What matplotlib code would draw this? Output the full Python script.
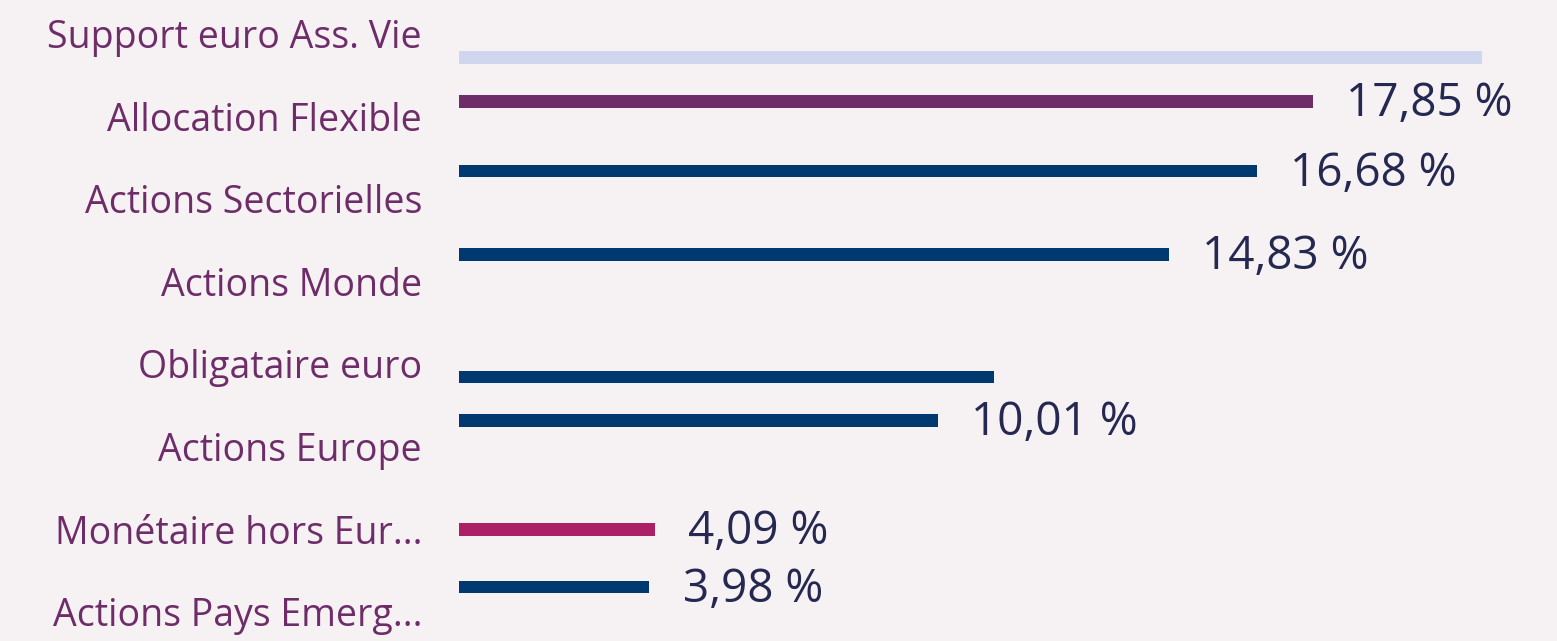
import matplotlib.pyplot as plt
from matplotlib.transforms import ScaledTranslation

plt.rcParams['font.family'] = ['Open Sans', 'DejaVu Sans']

categories = ['Support euro Ass. Vie', 'Allocation Flexible', 'Actions Sectorielles',
              'Actions Monde', 'Obligataire euro', 'Actions Europe',
              'Monétaire hors Eur...', 'Actions Pays Emerg...']
values = [21.38, 17.85, 16.68, 14.83, 11.18, 10.01, 4.09, 3.98]
value_labels = [None, '17,85 %', '16,68 %', '14,83 %', None, '10,01 %', '4,09 %', '3,98 %']
# bar rows sit off the label rows in the original layout
bar_rows = [0.315, 0.847, 1.689, 2.694, 4.183, 4.709, 6.029, 6.725]
colors = ['#cfd7ef', '#6e2d69', '#003870', '#003870', '#003870', '#003870', '#ac2165', '#003870']

bg = '#f6f2f4'
fig = plt.figure(figsize=(15.57, 6.41), dpi=100, facecolor=bg)
ax = fig.add_axes([459 / 1557, 0, 1 - 459 / 1557, 1])
ax.set_facecolor(bg)

ax.barh(bar_rows, values, height=0.157, color=colors)

for y, v, lab in zip(bar_rows, values, value_labels):
    if lab is None:
        continue
    ax.annotate(lab, (v, y), xytext=(24, -2), textcoords='offset points',
                ha='left', va='center', fontsize=33, color='#252850')

ax.set_xlim(0, 22.95)
ax.set_ylim((641 - 31.5) / 82.6, -31.5 / 82.6)
ax.set_yticks(range(len(categories)))
ax.set_yticklabels(categories, fontsize=27, color='#6e2d69')
ax.tick_params(axis='y', length=0, pad=26.6)
shift = ScaledTranslation(0, -2 / 100, fig.dpi_scale_trans)
for t in ax.get_yticklabels():
    t.set_transform(t.get_transform() + shift)
ax.set_xticks([])
for s in ax.spines.values():
    s.set_visible(False)

fig.savefig('out.png', dpi=100, facecolor=bg)
